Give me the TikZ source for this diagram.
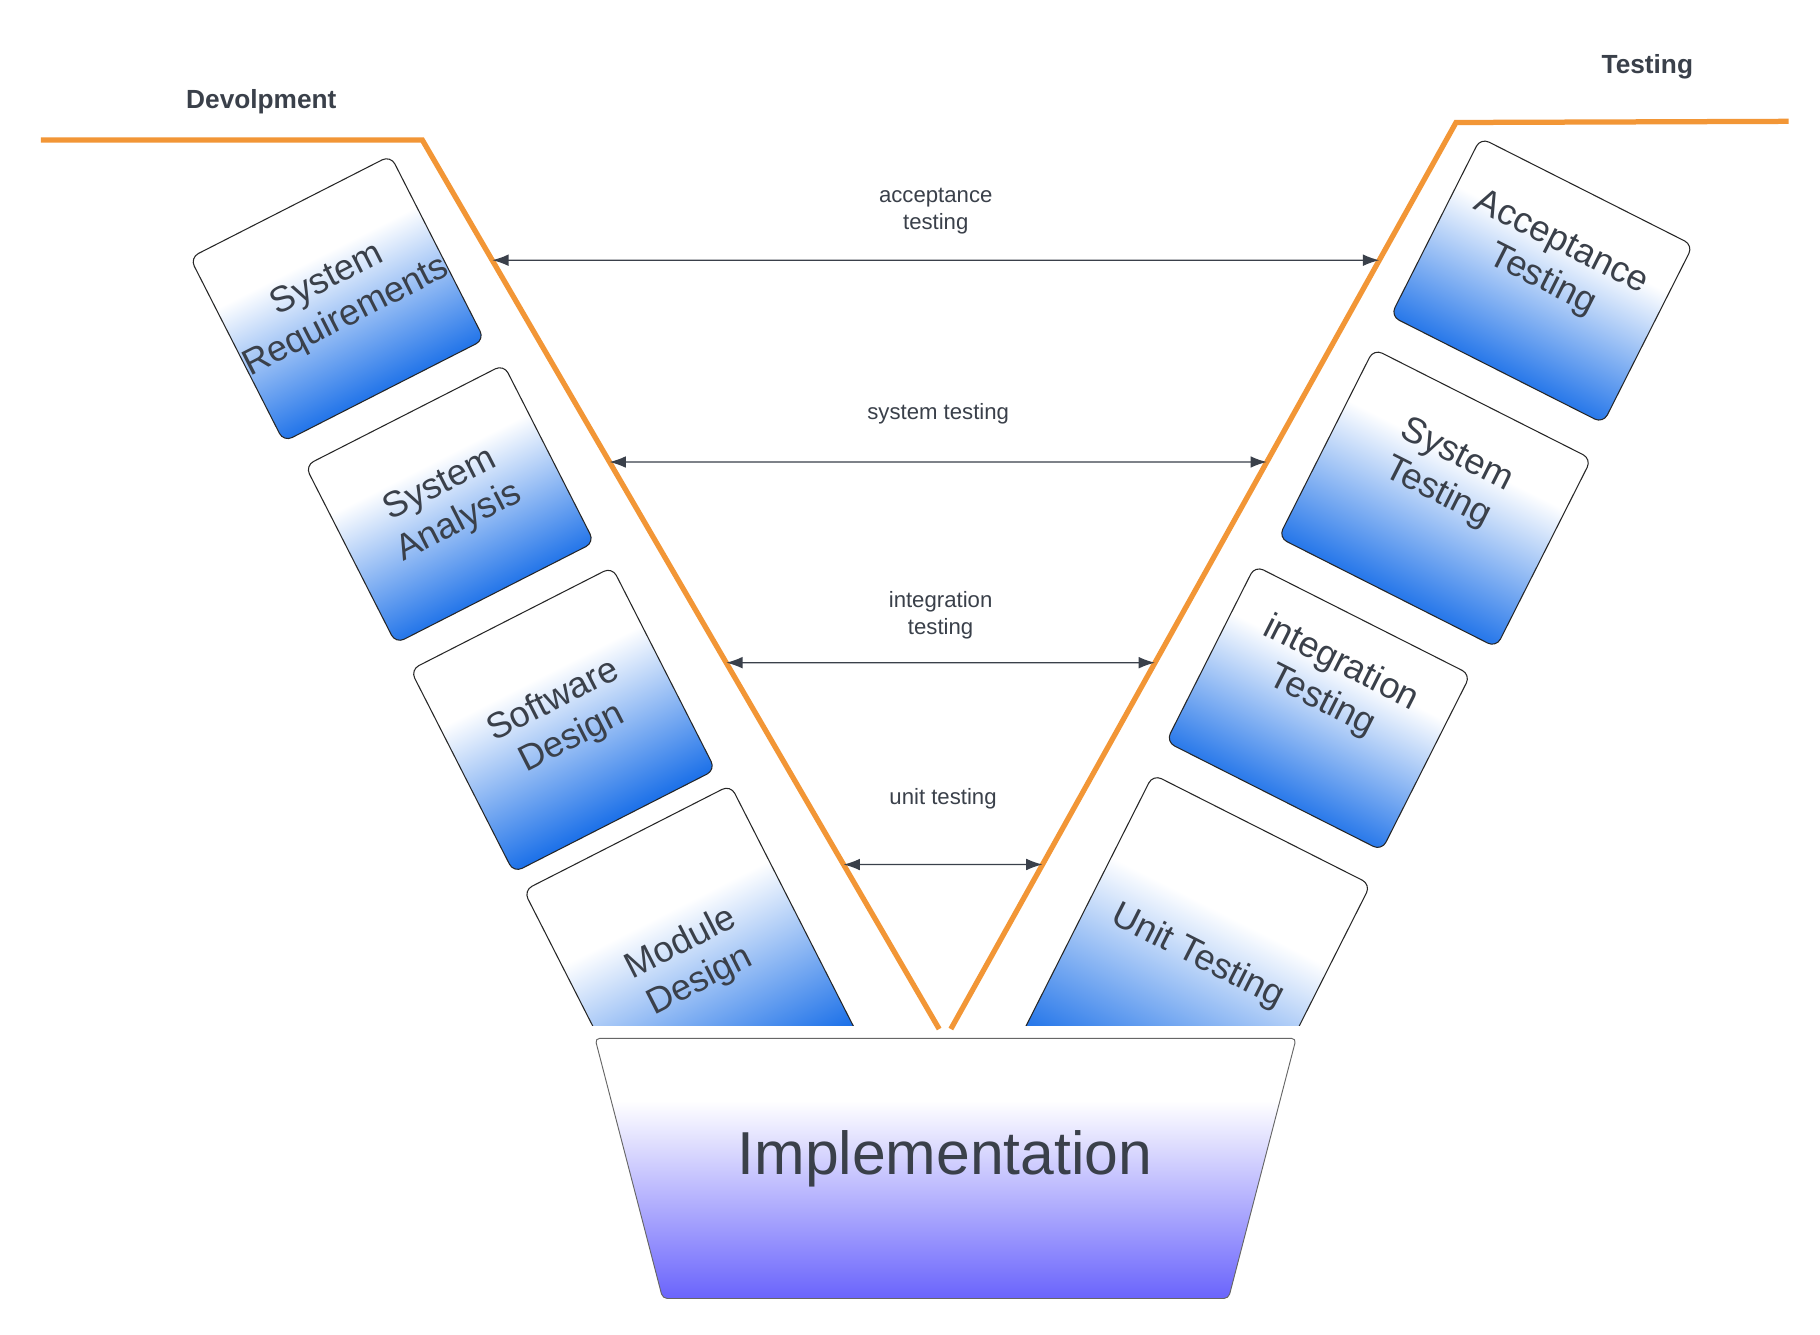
\documentclass[tikz,border=0pt]{standalone}
\usepackage{fontspec}
\setmainfont{Liberation Sans}
\usetikzlibrary{arrows.meta,calc,positioning}

\definecolor{vorange}{RGB}{242,150,54}
\definecolor{vblue}{RGB}{24,110,232}
\definecolor{vpurple}{RGB}{106,100,252}
\definecolor{vtext}{RGB}{58,64,74}
\pgfdeclareverticalshading{phaseshade}{100bp}{color(0bp)=(vblue); color(31bp)=(vblue); color(58bp)=(white); color(100bp)=(white)}
\pgfdeclareverticalshading{implshade}{100bp}{color(0bp)=(vpurple); color(25bp)=(vpurple); color(63bp)=(white); color(100bp)=(white)}

\tikzset{
  vline/.style={vorange, line width=4.5pt},
  phase/.style={draw=black!85, line width=0.9pt, rounded corners=8pt, shade, shading=phaseshade,
    inner sep=0pt, align=center, text=vtext, font=\fontsize{31}{36}\selectfont},
  devphase/.style={phase, rotate=27, shading angle=27},
  testphase/.style={phase, rotate=-26.8, shading angle=-26.8},
  phasetext/.style={inner sep=0pt, align=center, text=vtext, font=\fontsize{31}{36}\selectfont, rotate=-26.8},
  duplex/.style={<->, >={Latex[length=14pt,width=10pt]}, draw=vtext, line width=1.1pt},
  tlabel/.style={text=vtext, align=center, inner sep=0pt, font=\fontsize{19}{23}\selectfont},
  head/.style={text=vtext, font=\fontsize{22.5}{27}\selectfont\bfseries},
}

\begin{document}
\begin{tikzpicture}[x=1pt,y=-1pt]
\fill[white] (0,0) rectangle (1560,1144);
\useasboundingbox (0,0) rectangle (1560,1144);
% the V
\coordinate (devL) at (35,120);
\coordinate (devC) at (362,120);
\coordinate (vBotL) at (805,882);
\coordinate (vBotR) at (815,882);
\coordinate (testC) at (1248,105);
\coordinate (testR) at (1533,104);
\draw[vline] (devL) -- (devC) -- (vBotL);
\draw[vline] (vBotR) -- (testC) -- (testR);
\node[head] (devlab) at (224,87) {Devolpment};
\node[head] (testlab) at (1412,57) {Testing};
% development side
\node[devphase, minimum width=191pt, minimum height=177pt] (sysreq) at (289,256) {System\\Requirements};
\node[devphase, minimum width=191pt, minimum height=171pt] (sysana) at (385.5,432) {System\\Analysis};
\node[devphase, minimum width=194pt, minimum height=195pt] (swdes) at (482.5,617) {Software\\Design};
% testing side
\node[testphase, minimum width=204pt, minimum height=171pt] (acctest) at (1321.6,240.5) {};
\node[phasetext] (acctest-t) at ($(acctest.center)!0.21!(acctest.north)$) {Acceptance\\Testing};
\node[testphase, minimum width=209pt, minimum height=181pt] (systest) at (1230,427) {};
\node[phasetext] (systest-t) at ($(systest.center)!0.25!(systest.north)$) {System\\Testing};
\node[testphase, minimum width=207pt, minimum height=169pt] (inttest) at (1130,607) {};
\node[phasetext] (inttest-t) at ($(inttest.center)!0.29!(inttest.north)$) {integration\\Testing};
\begin{scope}
\clip (0,0) rectangle (1560,879);
\node[devphase, minimum width=199pt, minimum height=240pt] (moddes) at (592,825) {Module\\Design};
\node[testphase, minimum width=209pt, minimum height=260pt] (unittest) at (1023,827) {};
\node[phasetext] (unittest-t) at ($(unittest.center)!0.06!(unittest.north)$) {Unit Testing};
\end{scope}
% implementation
\draw[draw=black!60, line width=0.8pt, rounded corners=4pt, shade, shading=implshade]
  (510,890) -- (1111,890) -- (1053,1113) -- (568,1113) -- cycle;
\node[text=vtext, font=\fontsize{52}{60}\selectfont] (impl) at (810,993) {Implementation};
% test levels
\coordinate (accL) at ($(devC)!0.1352!(vBotL)$);
\coordinate (accR) at ($(testC)!0.1519!(vBotR)$);
\coordinate (sysL) at ($(devC)!0.3622!(vBotL)$);
\coordinate (sysR) at ($(testC)!0.3745!(vBotR)$);
\coordinate (intL) at ($(devC)!0.5879!(vBotL)$);
\coordinate (intR) at ($(testC)!0.5959!(vBotR)$);
\coordinate (unitL) at ($(devC)!0.8150!(vBotL)$);
\coordinate (unitR) at ($(testC)!0.8185!(vBotR)$);
\draw[duplex] (accL) -- node[tlabel, above=22pt] (acclab) {acceptance\\testing} (accR);
\draw[duplex] (sysL) -- node[tlabel, above=32pt] (syslab) {system testing} (sysR);
\draw[duplex] (intL) -- node[tlabel, above=20pt] (intlab) {integration\\testing} (intR);
\draw[duplex] (unitL) -- node[tlabel, above=47pt] (unitlab) {unit testing} (unitR);
\end{tikzpicture}
\end{document}
